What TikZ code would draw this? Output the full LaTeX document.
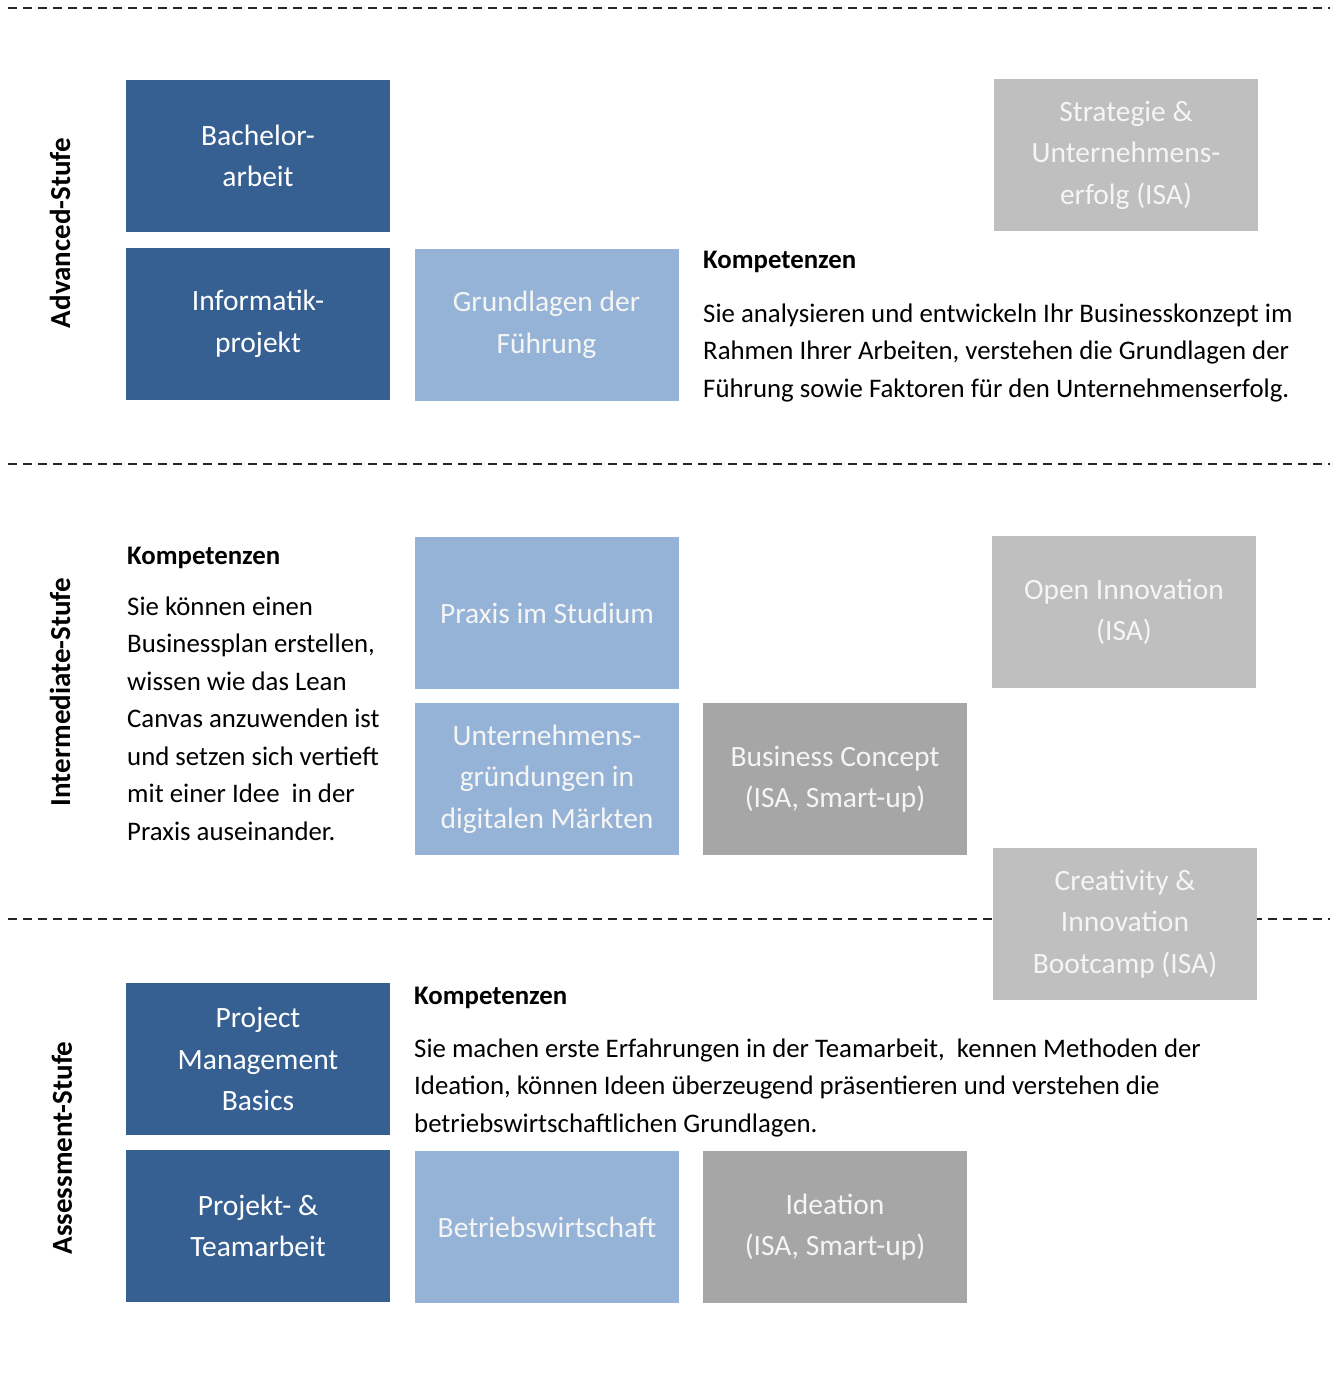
\documentclass[tikz,border=0pt]{standalone}
\usepackage{fontspec}
\setmainfont{Carlito}
\definecolor{dblue}{HTML}{376092}
\definecolor{lblue}{HTML}{95B3D7}
\definecolor{lgray}{HTML}{BFBFBF}
\definecolor{mgray}{HTML}{A6A6A6}
\definecolor{sepline}{HTML}{262626}
\definecolor{boxtext}{HTML}{F5F5F5}
\begin{document}
\begin{tikzpicture}[x=1pt,y=-1pt,
  box/.style={minimum width=264pt,minimum height=152pt,inner sep=0pt,align=center,
    font=\fontsize{29.5}{41.5}\selectfont},
  darkbox/.style={box,fill=dblue,text=white},
  lightbox/.style={box,fill=lblue,text=boxtext},
  graybox/.style={box,fill=lgray,text=boxtext},
  midbox/.style={box,fill=mgray,text=boxtext},
  sidelabel/.style={rotate=90,font=\bfseries\fontsize{29}{34}\selectfont},
  heading/.style={anchor=base west,inner sep=0pt,font=\bfseries\fontsize{26.8}{37.5}\selectfont},
  para/.style={anchor=base west,inner sep=0pt,align=left,font=\fontsize{26.8}{37.5}\selectfont},
  sep/.style={draw=sepline,line width=1.6pt,dash pattern=on 9pt off 6pt}]
\useasboundingbox (0,0) rectangle (1338,1373);
% separators
\draw[sep] (8,8) -- (1330,8);
\draw[sep] (8,464) -- (1330,464);
\draw[sep] (8,919) -- (1330,919);
% side labels
\node[sidelabel] (adv) at (60,233) {Advanced-Stufe};
\node[sidelabel] (int) at (60,692) {Intermediate-Stufe};
\node[sidelabel] (ass) at (62,1148) {Assessment-Stufe};
% advanced
\node[darkbox] (bach) at (258,156) {Bachelor-\\arbeit};
\node[darkbox] (info) at (258,324) {Informatik-\\projekt};
\node[lightbox] (fuehr) at (546.5,325) {Grundlagen der\\Führung};
\node[graybox] (strat) at (1126,155) {Strategie \&\\Unternehmens-\\erfolg (ISA)};
\node[heading] (k1) at (703,268) {Kompetenzen};
% para nodes: base anchor = baseline of the last line
\node[para] (p1) at (703,397) {Sie analysieren und entwickeln Ihr Businesskonzept im\\Rahmen Ihrer Arbeiten, verstehen die Grundlagen der\\Führung sowie Faktoren für den Unternehmenserfolg.};
% intermediate
\node[heading] (k2) at (127,564) {Kompetenzen};
\node[para] (p2) at (127,840) {Sie können einen\\Businessplan erstellen,\\wissen wie das Lean\\Canvas anzuwenden ist\\und setzen sich vertieft\\mit einer Idee\ \ in der\\Praxis auseinander.};
\node[lightbox] (praxis) at (547,613) {Praxis im Studium};
\node[lightbox] (gruend) at (547,779) {Unternehmens-\\gründungen in\\digitalen Märkten};
\node[midbox] (bc) at (835,779) {Business Concept\\(ISA, Smart-up)};
\node[graybox] (open) at (1124,612) {Open Innovation\\(ISA)};
\node[graybox] (creat) at (1125,924) {Creativity \&\\Innovation\\Bootcamp (ISA)};
% assessment
\node[darkbox] (pmb) at (258,1059) {Project\\Management\\Basics};
\node[darkbox] (team) at (258,1226) {Projekt- \&\\Teamarbeit};
\node[lightbox] (bwl) at (547,1227) {Betriebswirtschaft};
\node[midbox] (idea) at (835,1227) {Ideation\\(ISA, Smart-up)};
\node[heading] (k3) at (414,1004) {Kompetenzen};
\node[para] (p3) at (414,1132) {Sie machen erste Erfahrungen in der Teamarbeit,\ \ kennen Methoden der\\Ideation, können Ideen überzeugend präsentieren und verstehen die\\betriebswirtschaftlichen Grundlagen.};
\end{tikzpicture}
\end{document}
